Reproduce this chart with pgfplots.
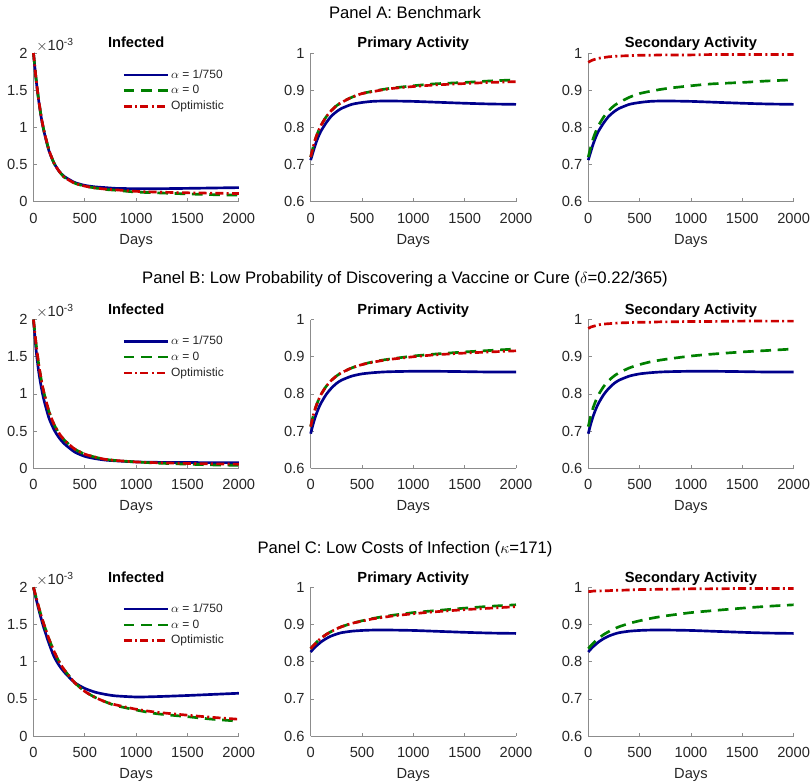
\documentclass[border=0pt]{standalone}
\usepackage{fontspec}
\setmainfont{Liberation Sans}
\usepackage{pgfplots}
\usepackage{pgfplotstable}
\pgfplotsset{compat=1.18}

\definecolor{mblue}{RGB}{0,0,140}
\definecolor{mgreen}{RGB}{0,128,0}
\definecolor{mred}{RGB}{204,0,0}

% columns: t, infected (blue/green/red), primary (blue/green/red), secondary red
% infected in units of 1e-3; secondary blue/green equal the primary ones
\pgfplotstableread{
t     Ib    Ig    Ir    Pb    Pg    Pr    Sr
0     2.00  2.00  2.00  0.712 0.720 0.720 0.975
25    1.65  1.66  1.66  0.735 0.748 0.748 0.979
50    1.37  1.38  1.38  0.757 0.772 0.772 0.982
75    1.14  1.15  1.15  0.775 0.790 0.790 0.984
100   0.96  0.97  0.97  0.790 0.805 0.805 0.986
150   0.69  0.70  0.70  0.812 0.828 0.828 0.988
200   0.52  0.52  0.52  0.830 0.845 0.845 0.990
250   0.41  0.41  0.41  0.842 0.858 0.858 0.991
300   0.34  0.33  0.33  0.851 0.867 0.867 0.992
400   0.26  0.25  0.25  0.862 0.881 0.881 0.993
500   0.22  0.21  0.21  0.867 0.891 0.891 0.994
600   0.20  0.185 0.185 0.870 0.897 0.896 0.994
700   0.19  0.165 0.17  0.871 0.902 0.901 0.995
800   0.18  0.155 0.16  0.871 0.906 0.905 0.995
1000  0.175 0.13  0.14  0.870 0.912 0.910 0.995
1200  0.175 0.12  0.13  0.868 0.917 0.914 0.996
1500  0.18  0.105 0.12  0.865 0.921 0.918 0.996
1750  0.185 0.095 0.115 0.863 0.925 0.921 0.996
2000  0.19  0.088 0.11  0.862 0.928 0.923 0.996
}\rowA

\pgfplotstableread{
t     Ib    Ig    Ir    Pb    Pg    Pr    Sr
0     2.00  2.00  2.00  0.693 0.712 0.712 0.976
25    1.60  1.68  1.68  0.720 0.742 0.742 0.980
50    1.31  1.41  1.41  0.742 0.765 0.765 0.982
75    1.10  1.20  1.20  0.760 0.783 0.783 0.984
100   0.93  1.03  1.03  0.775 0.798 0.798 0.986
150   0.68  0.77  0.77  0.798 0.820 0.820 0.988
200   0.52  0.59  0.59  0.815 0.836 0.836 0.989
250   0.41  0.47  0.47  0.828 0.848 0.848 0.990
300   0.33  0.38  0.38  0.837 0.857 0.857 0.991
400   0.22  0.26  0.26  0.848 0.870 0.870 0.992
500   0.16  0.19  0.19  0.854 0.879 0.879 0.993
600   0.13  0.15  0.15  0.857 0.886 0.885 0.993
700   0.11  0.12  0.12  0.859 0.891 0.890 0.994
800   0.10  0.105 0.105 0.860 0.895 0.894 0.994
1000  0.085 0.085 0.085 0.861 0.902 0.900 0.995
1200  0.08  0.07  0.075 0.861 0.907 0.905 0.995
1500  0.077 0.055 0.065 0.860 0.913 0.910 0.996
1750  0.076 0.045 0.06  0.859 0.917 0.913 0.996
2000  0.075 0.04  0.055 0.859 0.921 0.916 0.996
}\rowB

\pgfplotstableread{
t     Ib    Ig    Ir    Pb    Pg    Pr    Sr
0     2.00  2.00  2.00  0.826 0.835 0.835 0.989
25    1.85  1.87  1.87  0.834 0.843 0.843 0.989
50    1.71  1.74  1.74  0.841 0.850 0.850 0.990
75    1.58  1.62  1.62  0.847 0.857 0.857 0.990
100   1.46  1.51  1.51  0.853 0.863 0.863 0.990
150   1.25  1.31  1.31  0.862 0.873 0.873 0.991
200   1.07  1.14  1.14  0.869 0.881 0.881 0.991
250   0.95  1.00  1.00  0.874 0.888 0.888 0.992
300   0.86  0.89  0.89  0.878 0.894 0.894 0.992
400   0.72  0.72  0.72  0.882 0.903 0.903 0.993
500   0.64  0.60  0.60  0.884 0.910 0.909 0.994
600   0.59  0.52  0.52  0.885 0.916 0.915 0.994
700   0.56  0.46  0.46  0.885 0.921 0.919 0.995
800   0.54  0.41  0.42  0.885 0.925 0.923 0.995
1000  0.525 0.35  0.36  0.884 0.932 0.929 0.996
1200  0.53  0.30  0.32  0.882 0.937 0.934 0.996
1500  0.545 0.26  0.28  0.879 0.944 0.940 0.997
1750  0.56  0.225 0.25  0.877 0.949 0.944 0.997
2000  0.575 0.20  0.225 0.876 0.953 0.948 0.997
}\rowC

\pgfplotsset{
  panel/.style={
    scale only axis, width=154pt, height=111.5pt,
    xmin=0, xmax=2000,
    xtick={0,500,1000,1500,2000}, xticklabels={0,500,1000,1500,2000},
    axis x line*=bottom, axis y line*=left,
    axis line style={-, draw=black!45, line width=0.6pt},
    tick align=inside, major tick length=2.5pt,
    tick style={black!45, line width=0.5pt},
    ticklabel style={font=\fontsize{11}{13}\selectfont, text=black!85},
    xticklabel style={yshift=-5pt},
    yticklabel style={xshift=-1pt},
    xlabel={Days},
    xlabel style={font=\fontsize{11}{13}\selectfont, text=black!85,
      at={(axis description cs:0.5,0)}, anchor=base, yshift=-32pt},
    every axis title/.style={font=\bfseries\fontsize{11}{13}\selectfont,
      at={(axis description cs:0.5,1)}, anchor=base, yshift=3.8pt},
    clip=false,
    every axis plot/.append style={line width=2pt, smooth, tension=0.4},
  },
  inf/.style={
    ymin=0, ymax=2, ytick={0,0.5,1,1.5,2}, yticklabels={0,0.5,1,1.5,2},
    title={Infected},
    legend image code/.code={\draw[##1, line width=2pt] (0pt,0pt) -- (33pt,0pt);},
    legend cell align=left,
    legend style={draw=none, fill=none, at={(0.432,0.908)}, anchor=north west,
      font=\fontsize{9}{10}\selectfont, text=black!85, inner sep=0pt,
      row sep=0pt, column sep=0pt,
      nodes={inner sep=1.5pt, text height=6.8pt, text depth=2pt}},
  },
  act/.style={
    ymin=0.6, ymax=1, ytick={0.6,0.7,0.8,0.9,1},
    yticklabels={0.6,0.7,0.8,0.9,1},
  },
  bl/.style={mblue},
  gr/.style={mgreen, dash pattern=on 8pt off 5pt},
  rd/.style={mred, dash pattern=on 6pt off 2.5pt on 1.5pt off 2.5pt},
}

\begin{document}
\begin{tikzpicture}
\path[use as bounding box] (0,0) rectangle (607.5pt,-588pt);

% ---------- Panel A ----------
\node[font=\fontsize{12.5}{15}\selectfont, anchor=base] at (303.75pt,-14pt) {Panel A: Benchmark};

\begin{axis}[panel, inf, at={(25.1pt,-151.3pt)}, anchor=south west]
\addplot[bl] table[x=t, y=Ib]{\rowA};
\addlegendentry{$\alpha$ = 1/750}
\addplot[gr] table[x=t, y=Ig]{\rowA};
\addlegendentry{$\alpha$ = 0}
\addplot[rd] table[x=t, y=Ir]{\rowA};
\addlegendentry{Optimistic}
\node[anchor=base west, inner sep=0pt, font=\fontsize{11}{13}\selectfont, text=black!85]
  at (rel axis cs:0,1) [xshift=1.9pt, yshift=2pt] {$\times$10\textsuperscript{-3}};
\end{axis}

\begin{axis}[panel, act, at={(233pt,-151.3pt)}, anchor=south west, title={Primary Activity}]
\addplot[bl] table[x=t, y=Pb]{\rowA};
\addplot[gr] table[x=t, y=Pg]{\rowA};
\addplot[rd] table[x=t, y=Pr]{\rowA};
\end{axis}

\begin{axis}[panel, act, at={(441.2pt,-151.3pt)}, anchor=south west, title={Secondary Activity}]
\addplot[bl] table[x=t, y=Pb]{\rowA};
\addplot[gr] table[x=t, y=Pg]{\rowA};
\addplot[rd] table[x=t, y=Sr]{\rowA};
\end{axis}

% ---------- Panel B ----------
\node[font=\fontsize{12.5}{15}\selectfont, anchor=base] at (303.75pt,-213pt)
  {Panel B: Low Probability of Discovering a Vaccine or Cure ($\delta$=0.22/365)};

\begin{axis}[panel, inf, at={(25.1pt,-351.2pt)}, anchor=south west]
\addplot[bl] table[x=t, y=Ib]{\rowB};
\addlegendentry{$\alpha$ = 1/750}
\addplot[gr] table[x=t, y=Ig]{\rowB};
\addlegendentry{$\alpha$ = 0}
\addplot[rd] table[x=t, y=Ir]{\rowB};
\addlegendentry{Optimistic}
\node[anchor=base west, inner sep=0pt, font=\fontsize{11}{13}\selectfont, text=black!85]
  at (rel axis cs:0,1) [xshift=1.9pt, yshift=2pt] {$\times$10\textsuperscript{-3}};
\end{axis}

\begin{axis}[panel, act, at={(233pt,-351.2pt)}, anchor=south west, title={Primary Activity}]
\addplot[bl] table[x=t, y=Pb]{\rowB};
\addplot[gr] table[x=t, y=Pg]{\rowB};
\addplot[rd] table[x=t, y=Pr]{\rowB};
\end{axis}

\begin{axis}[panel, act, at={(441.2pt,-351.2pt)}, anchor=south west, title={Secondary Activity}]
\addplot[bl] table[x=t, y=Pb]{\rowB};
\addplot[gr] table[x=t, y=Pg]{\rowB};
\addplot[rd] table[x=t, y=Sr]{\rowB};
\end{axis}

% ---------- Panel C ----------
\node[font=\fontsize{12.5}{15}\selectfont, anchor=base] at (303.75pt,-414.75pt)
  {Panel C: Low Costs of Infection ($\kappa$=171)};

\begin{axis}[panel, inf, at={(25.1pt,-552pt)}, anchor=south west]
\addplot[bl] table[x=t, y=Ib]{\rowC};
\addlegendentry{$\alpha$ = 1/750}
\addplot[gr] table[x=t, y=Ig]{\rowC};
\addlegendentry{$\alpha$ = 0}
\addplot[rd] table[x=t, y=Ir]{\rowC};
\addlegendentry{Optimistic}
\node[anchor=base west, inner sep=0pt, font=\fontsize{11}{13}\selectfont, text=black!85]
  at (rel axis cs:0,1) [xshift=1.9pt, yshift=2pt] {$\times$10\textsuperscript{-3}};
\end{axis}

\begin{axis}[panel, act, at={(233pt,-552pt)}, anchor=south west, title={Primary Activity}]
\addplot[bl] table[x=t, y=Pb]{\rowC};
\addplot[gr] table[x=t, y=Pg]{\rowC};
\addplot[rd] table[x=t, y=Pr]{\rowC};
\end{axis}

\begin{axis}[panel, act, at={(441.2pt,-552pt)}, anchor=south west, title={Secondary Activity}]
\addplot[bl] table[x=t, y=Pb]{\rowC};
\addplot[gr] table[x=t, y=Pg]{\rowC};
\addplot[rd] table[x=t, y=Sr]{\rowC};
\end{axis}
\end{tikzpicture}
\end{document}
